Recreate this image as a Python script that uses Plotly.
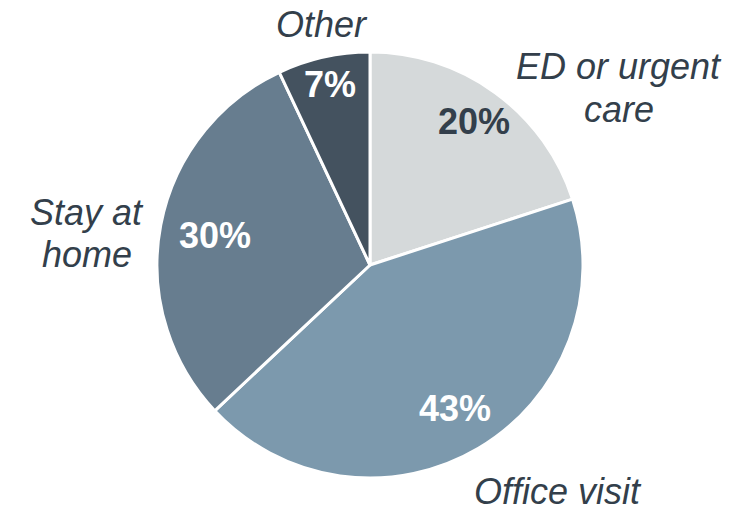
import math
import plotly.graph_objects as go

categories = ["ED or urgent care", "Office visit", "Stay at home", "Other"]
values = [20, 43, 30, 7]
label_lines = [["ED or urgent", "care"], ["Office visit"], ["Stay at", "home"], ["Other"]]
colors = ["#d5d9da", "#7c99ad", "#677d8f", "#44525f"]
pct_colors = ["#333f4b", "#ffffff", "#ffffff", "#ffffff"]
pct_radius = [0.83, 0.78, 0.74, 0.87]
label_pos_px = [(619, 67), (558, 491), (87, 212), (322, 25)]
LINE_GAP = 42

W, H = 756, 509
CX, CY, R = 370, 265, 213
TEXT = "#333f4b"
FONT = "Liberation Sans, Arial, sans-serif"

fig = go.Figure(go.Pie(
    labels=categories,
    values=values,
    sort=False,
    direction="clockwise",
    rotation=0,
    marker=dict(colors=colors, line=dict(color="white", width=3)),
    textinfo="none",
    hoverinfo="label+percent",
    showlegend=False,
    domain=dict(x=[(CX - R) / W, (CX + R) / W], y=[1 - (CY + R) / H, 1 - (CY - R) / H]),
))

annotations = []
total = sum(values)
cum = 0
for i, v in enumerate(values):
    mid = (cum + v / 2) / total * 2 * math.pi
    cum += v
    px = CX + pct_radius[i] * R * math.sin(mid)
    py = CY - pct_radius[i] * R * math.cos(mid)
    annotations.append(dict(
        x=px / W, y=1 - py / H, xref="paper", yref="paper",
        text=f"<b>{round(v / total * 100)}%</b>", showarrow=False,
        font=dict(family=FONT, size=36, color=pct_colors[i]),
        xanchor="center", yanchor="middle",
    ))
    lx, ly = label_pos_px[i]
    for j, line in enumerate(label_lines[i]):
        annotations.append(dict(
            x=lx / W, y=1 - (ly + j * LINE_GAP) / H, xref="paper", yref="paper",
            text=f"<i>{line}</i>", showarrow=False,
            font=dict(family=FONT, size=36, color=TEXT),
            xanchor="center", yanchor="middle", align="center",
            borderpad=0,
        ))

fig.update_layout(
    width=W, height=H,
    margin=dict(l=0, r=0, t=0, b=0),
    paper_bgcolor="white", plot_bgcolor="white",
    annotations=annotations,
)

fig.write_html("out.html")
